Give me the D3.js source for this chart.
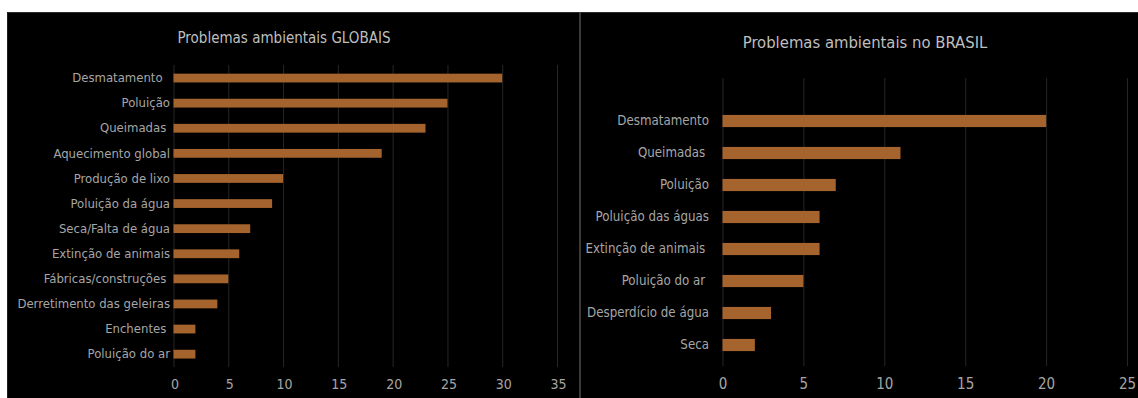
<!DOCTYPE html>
<html>
<head>
<meta charset="utf-8">
<script src="https://cdn.jsdelivr.net/npm/d3@7"></script>
<style>
  html, body { margin: 0; padding: 0; background: #ffffff; }
  svg { display: block; }
  text { font-family: "Liberation Sans Narrow", "DejaVu Sans Condensed", "Open Sans", sans-serif; white-space: pre; }
</style>
</head>
<body>
<svg id="chart" width="1138" height="398"></svg>
<script>
// Global environmental problems
const globalCategories = [
  "Desmatamento  ", "Poluição", "Queimadas ", "Aquecimento global", "Produção de lixo",
  "Poluição da água", "Seca/Falta de água", "Extinção de animais", "Fábricas/construções ",
  "Derretimento das geleiras", "Enchentes ", "Poluição do ar"
];
const globalValues = [30, 25, 23, 19, 10, 9, 7, 6, 5, 4, 2, 2];
const globalTicks = [0, 5, 10, 15, 20, 25, 30, 35];

// Environmental problems in Brazil
const brasilCategories = [
  "Desmatamento", "Queimadas ", "Poluição", "Poluição das águas",
  "Extinção de animais ", "Poluição do ar ", "Desperdício de água", "Seca"
];
const brasilValues = [20, 11, 7, 6, 6, 5, 3, 2];
const brasilTicks = [0, 5, 10, 15, 20, 25];

const barColor = "#a5642d";
const gridColor = "#262626";
const textColor = "#a6a6a6";
const titleColor = "#bfbfbf";
const fontStack = "\"Liberation Sans Narrow\", \"DejaVu Sans Condensed\", sans-serif";

const svg = d3.select("#chart");

// panel backgrounds
svg.append("rect").attr("x", 7).attr("y", 12).attr("width", 1131).attr("height", 386).attr("fill", "#000");
svg.append("line").attr("x1", 7).attr("x2", 1138).attr("y1", 12.5).attr("y2", 12.5).attr("stroke", "#2b2b2b");
svg.append("line").attr("x1", 7.5).attr("x2", 7.5).attr("y1", 12).attr("y2", 398).attr("stroke", "#1e1e1e");
svg.append("rect").attr("x", 579).attr("y", 12).attr("width", 2).attr("height", 386).attr("fill", "#3a3a3a");

function drawPanel(cfg) {
  const g = svg.append("g");
  const x = d3.scaleLinear().domain([0, cfg.max]).range([cfg.x0, cfg.x1]);
  const y = d3.scaleBand().domain(cfg.categories).range([cfg.bandTop, cfg.bandBottom]).paddingInner(cfg.pad).paddingOuter(cfg.pad / 2);

  // vertical gridlines
  g.append("g")
    .attr("transform", `translate(0,${cfg.gridBottom})`)
    .call(d3.axisBottom(x).tickValues(cfg.ticks).tickSize(-(cfg.gridBottom - cfg.gridTop)).tickFormat(""))
    .call(a => a.select(".domain").remove())
    .call(a => a.selectAll("line").attr("stroke", gridColor).attr("stroke-width", 1));

  // tick labels
  g.append("g")
    .attr("transform", `translate(${cfg.tickDx},${cfg.tickY})`)
    .call(d3.axisBottom(x).tickValues(cfg.ticks).tickSize(0).tickPadding(0))
    .call(a => a.select(".domain").remove())
    .call(a => a.selectAll("text")
      .attr("fill", textColor)
      .attr("font-size", cfg.tickFont)
      .attr("font-family", fontStack));

  // category labels
  g.append("g")
    .attr("transform", `translate(${cfg.labelX},0)`)
    .call(d3.axisLeft(y).tickSize(0).tickPadding(0))
    .call(a => a.select(".domain").remove())
    .call(a => a.selectAll("text")
      .attr("fill", textColor)
      .attr("font-size", cfg.labelFont)
      .attr("font-family", fontStack)
      .style("white-space", "pre"));

  // bars
  g.append("g").selectAll("rect")
    .data(cfg.values)
    .join("rect")
    .attr("x", x(0))
    .attr("y", (d, i) => y(cfg.categories[i]))
    .attr("width", d => x(d) - x(0))
    .attr("height", y.bandwidth())
    .attr("fill", barColor);

  // title
  g.append("text")
    .attr("x", cfg.titleX)
    .attr("y", cfg.titleY)
    .attr("text-anchor", "middle")
    .attr("fill", titleColor)
    .attr("font-size", cfg.titleFont)
    .text(cfg.title);
}

drawPanel({
  categories: globalCategories, values: globalValues, ticks: globalTicks, max: 35,
  x0: 173.5, x1: 557, bandTop: 65.5, bandBottom: 366.7, pad: 0.65,
  gridTop: 65, gridBottom: 367, tickY: 379, tickDx: 1, tickFont: 14, labelX: 170, labelFont: 13,
  title: "Problemas ambientais GLOBAIS", titleX: 284, titleY: 43, titleFont: 15
});

drawPanel({
  categories: brasilCategories, values: brasilValues, ticks: brasilTicks, max: 25,
  x0: 722.5, x1: 1127, bandTop: 105, bandBottom: 361, pad: 0.62,
  gridTop: 78, gridBottom: 366, tickY: 378, tickDx: 0, tickFont: 15, labelX: 709, labelFont: 13.2,
  title: "Problemas ambientais no BRASIL", titleX: 865, titleY: 48, titleFont: 16.5
});
</script>
</body>
</html>
